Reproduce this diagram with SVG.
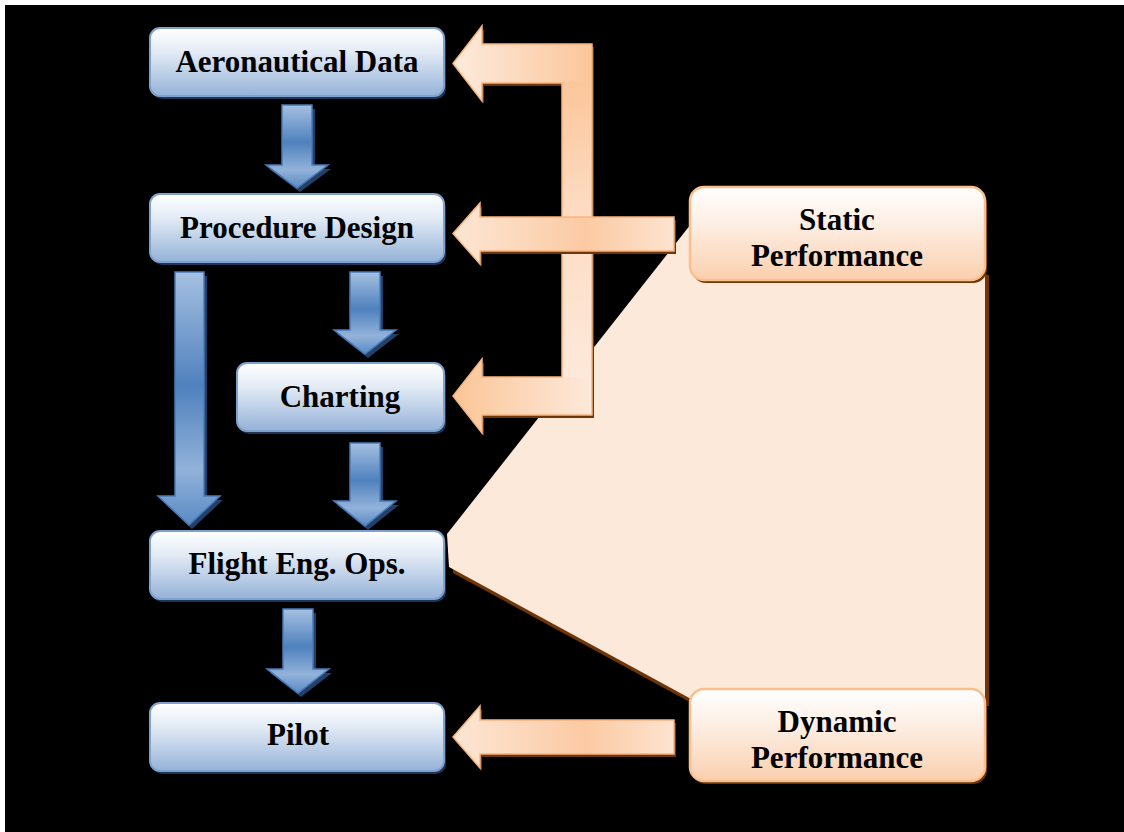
<svg xmlns="http://www.w3.org/2000/svg" width="1124" height="832" viewBox="0 0 1124 832">
  <defs>
    <linearGradient id="boxBlue" x1="0" y1="0" x2="0" y2="1">
      <stop offset="0" stop-color="#ffffff"/>
      <stop offset="0.35" stop-color="#e3ebf5"/>
      <stop offset="1" stop-color="#94b2d8"/>
    </linearGradient>
    <linearGradient id="boxOrange" x1="0" y1="0" x2="0" y2="1">
      <stop offset="0" stop-color="#ffffff"/>
      <stop offset="0.4" stop-color="#fdeee3"/>
      <stop offset="1" stop-color="#fbcfae"/>
    </linearGradient>
    <linearGradient id="arrowBlue" x1="0" y1="0" x2="0" y2="1">
      <stop offset="0" stop-color="#a5c0e2"/>
      <stop offset="0.45" stop-color="#4f81bd"/>
      <stop offset="0.78" stop-color="#92b2da"/>
      <stop offset="1" stop-color="#5a8ac4"/>
    </linearGradient>
    <linearGradient id="orangeH" x1="0" y1="0" x2="1" y2="0">
      <stop offset="0" stop-color="#fde6d4"/>
      <stop offset="0.6" stop-color="#fbcaa3"/>
      <stop offset="1" stop-color="#fde3cf"/>
    </linearGradient>
    <linearGradient id="orangeTop" x1="0" y1="0" x2="1" y2="0">
      <stop offset="0" stop-color="#fdebdd"/>
      <stop offset="1" stop-color="#fbc69a"/>
    </linearGradient>
    <linearGradient id="orangeBottom" x1="0" y1="0" x2="1" y2="0">
      <stop offset="0" stop-color="#fbc597"/>
      <stop offset="1" stop-color="#fde9da"/>
    </linearGradient>
    <linearGradient id="orangeV" x1="0" y1="0" x2="0" y2="1">
      <stop offset="0" stop-color="#fbc69a"/>
      <stop offset="0.45" stop-color="#fddcc4"/>
      <stop offset="1" stop-color="#fde9da"/>
    </linearGradient>
  </defs>
  <style>
    .bbox { fill: url(#boxBlue); stroke: #7fa1cd; stroke-width: 2; }
    .bshadow { fill: #1e3556; }
    .obox { fill: url(#boxOrange); stroke: #f9bf8f; stroke-width: 2.5; }
    .oshadow { fill: #6e3608; }
    .barrow { fill: url(#arrowBlue); stroke: #4a7bb7; stroke-width: 1.5; }
    .bashadow { fill: #22406a; }
    .oarrow-edge { fill: none; stroke: #f7b481; stroke-width: 1.5; stroke-linejoin: miter; }
    .oashadow { fill: #6e3608; }
    .label { font-family: "Liberation Serif", "Times New Roman", serif; font-weight: bold; font-size: 31px; fill: #000; text-anchor: middle; }
  </style>

  <!-- page -->
  <rect x="0" y="0" width="1124" height="832" fill="#ffffff"/>
  <rect x="5" y="5" width="1119" height="827" fill="#000000"/>

  <!-- callout band joining the performance boxes to Flight Eng. Ops. -->
  <g id="callout">
    <polygon points="702,210 449,537 451,570 695,703 987,703 987,272" fill="#6e3608" transform="translate(2,3)"/>
    <polygon points="702,210 447,534 449,567 693,700 985,700 985,270" fill="#fce9da"/>
  </g>

  <g id="connectors">
    <!-- blue flow arrows -->
    <g id="arrow-aero-proc">
      <path class="bashadow" transform="translate(3,4)" d="M282,105 L312,105 L312,165 L328,165 L297,188 L266,165 L282,165 Z"/>
      <path class="barrow" d="M282,105 L312,105 L312,165 L328,165 L297,188 L266,165 L282,165 Z"/>
    </g>
    <g id="arrow-proc-flight">
      <path class="bashadow" transform="translate(3,4)" d="M175,272 L204,272 L204,496 L220,496 L189,525 L158,496 L175,496 Z"/>
      <path class="barrow" d="M175,272 L204,272 L204,496 L220,496 L189,525 L158,496 L175,496 Z"/>
    </g>
    <g id="arrow-proc-chart">
      <path class="bashadow" transform="translate(3,4)" d="M350,272 L380,272 L380,330 L396,330 L365,354 L334,330 L350,330 Z"/>
      <path class="barrow" d="M350,272 L380,272 L380,330 L396,330 L365,354 L334,330 L350,330 Z"/>
    </g>
    <g id="arrow-chart-flight">
      <path class="bashadow" transform="translate(3,4)" d="M350,443 L380,443 L380,501 L396,501 L365,526 L334,501 L350,501 Z"/>
      <path class="barrow" d="M350,443 L380,443 L380,501 L396,501 L365,526 L334,501 L350,501 Z"/>
    </g>
    <g id="arrow-flight-pilot">
      <path class="bashadow" transform="translate(3,4)" d="M283,609 L313,609 L313,669 L329,669 L298,693 L267,669 L283,669 Z"/>
      <path class="barrow" d="M283,609 L313,609 L313,669 L329,669 L298,693 L267,669 L283,669 Z"/>
    </g>

    <!-- static performance bracket: feeds Aeronautical Data and Charting -->
    <g id="bracket-static">
      <path class="oashadow" transform="translate(2,3)" d="M453,63.5 L482,26 L482,44 L592,44 L592,415 L482,415 L482,433 L453,396 L482,359 L482,377 L562,377 L562,83 L482,83 L482,101 Z"/>
      <path fill="url(#orangeTop)" d="M453,63.5 L482,26 L482,44 L592,44 L592,83 L482,83 L482,101 Z"/>
      <rect x="562" y="82" width="30" height="296" fill="url(#orangeV)"/>
      <path fill="url(#orangeBottom)" d="M453,396 L482,359 L482,377 L592,377 L592,415 L482,415 L482,433 Z"/>
      <path class="oarrow-edge" d="M453,63.5 L482,26 L482,44 L592,44 L592,415 L482,415 L482,433 L453,396 L482,359 L482,377 L562,377 L562,83 L482,83 L482,101 Z"/>
    </g>

    <!-- static performance to Procedure Design -->
    <g id="arrow-static-proc">
      <path class="oashadow" transform="translate(2,3)" d="M453,233.5 L480,203 L480,217 L674,217 L674,251 L480,251 L480,264 Z"/>
      <path class="oarrow-edge" style="fill:url(#orangeH)" d="M453,233.5 L480,203 L480,217 L674,217 L674,251 L480,251 L480,264 Z"/>
    </g>

    <!-- dynamic performance to Pilot -->
    <g id="arrow-dynamic-pilot">
      <path class="oashadow" transform="translate(2,3)" d="M453,737 L480,706 L480,720 L674,720 L674,754 L480,754 L480,768 Z"/>
      <path class="oarrow-edge" style="fill:url(#orangeH)" d="M453,737 L480,706 L480,720 L674,720 L674,754 L480,754 L480,768 Z"/>
    </g>
  </g>

  <!-- process boxes -->
  <g id="node-aeronautical-data">
    <rect class="bshadow" x="152" y="31" width="294" height="68" rx="10"/>
    <rect class="bbox" x="150" y="28" width="294" height="68" rx="10"/>
    <text class="label" x="297" y="72">Aeronautical Data</text>
  </g>
  <g id="node-procedure-design">
    <rect class="bshadow" x="152" y="197" width="294" height="68" rx="10"/>
    <rect class="bbox" x="150" y="194" width="294" height="68" rx="10"/>
    <text class="label" x="297" y="238">Procedure Design</text>
  </g>
  <g id="node-charting">
    <rect class="bshadow" x="239" y="366" width="207" height="68" rx="10"/>
    <rect class="bbox" x="237" y="363" width="207" height="68" rx="10"/>
    <text class="label" x="340" y="407">Charting</text>
  </g>
  <g id="node-flight-eng-ops">
    <rect class="bshadow" x="152" y="534" width="294" height="68" rx="10"/>
    <rect class="bbox" x="150" y="531" width="294" height="68" rx="10"/>
    <text class="label" x="297" y="574">Flight Eng. Ops.</text>
  </g>
  <g id="node-pilot">
    <rect class="bshadow" x="152" y="706" width="294" height="68" rx="10"/>
    <rect class="bbox" x="150" y="703" width="294" height="68" rx="10"/>
    <text class="label" x="298" y="745">Pilot</text>
  </g>

  <!-- performance sources -->
  <g id="node-static-performance">
    <rect class="oshadow" x="692" y="190" width="295" height="93" rx="14"/>
    <rect class="obox" x="690" y="187" width="295" height="93" rx="14"/>
    <text class="label" x="837" y="230">Static</text>
    <text class="label" x="837" y="266">Performance</text>
  </g>
  <g id="node-dynamic-performance">
    <rect class="oshadow" x="692" y="692" width="295" height="92" rx="14"/>
    <rect class="obox" x="690" y="689" width="295" height="92" rx="14"/>
    <text class="label" x="837" y="732">Dynamic</text>
    <text class="label" x="837" y="768">Performance</text>
  </g>
</svg>
